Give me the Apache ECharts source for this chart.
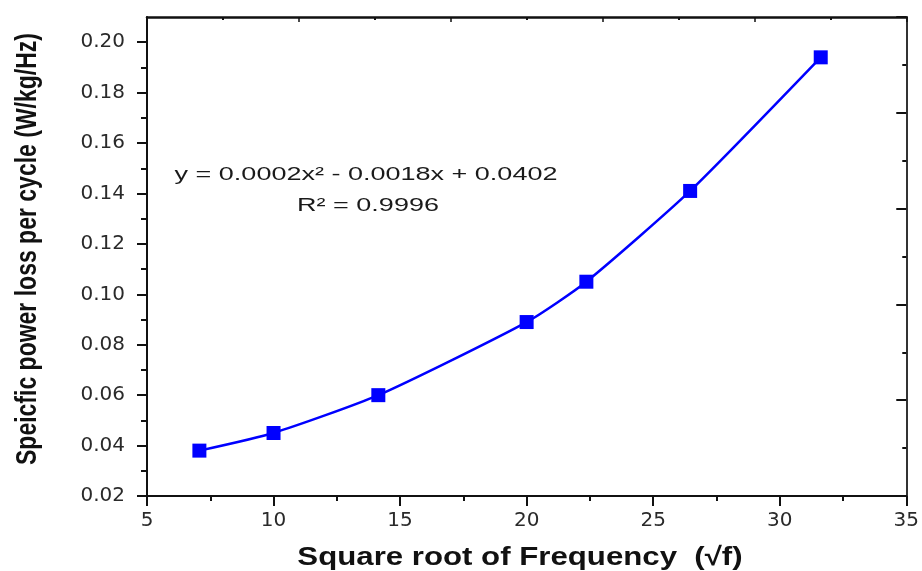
<!DOCTYPE html>
<html>
<head>
<meta charset="utf-8">
<title>Specific power loss per cycle vs square root of frequency</title>
<script src="https://cdn.jsdelivr.net/npm/echarts@6/dist/echarts.min.js"></script>
<style>
  html, body { margin: 0; padding: 0; background: #ffffff; }
  #chart { width: 922px; height: 571px; }
</style>
</head>
<body>
<div id="chart"></div>
<script>
// Measured points: square root of frequency vs. specific power loss per cycle
const sqrtFreq = [7.07, 10.0, 14.14, 20.0, 22.36, 26.46, 31.62];
const lossPerCycle = [0.038, 0.045, 0.060, 0.089, 0.105, 0.141, 0.194];

// Left axis tick positions (labelled majors, unlabelled minors)
const yMajorTicks = [0.02, 0.04, 0.06, 0.08, 0.10, 0.12, 0.14, 0.16, 0.18, 0.20];
const yMinorTicks = [0.03, 0.05, 0.07, 0.09, 0.11, 0.13, 0.15, 0.17, 0.19];

// Quadratic fit annotation
const fitEquation = 'y = 0.0002x\u00B2 - 0.0018x + 0.0402';
const fitR2 = 'R\u00B2 = 0.9996';

const xTitle = 'Square root of Frequency  (\u221Af)';
const yTitle = 'Speicfic power loss per cycle (W/kg/Hz)';

const points = sqrtFreq.map((x, i) => [x, lossPerCycle[i]]);

const chart = echarts.init(document.getElementById('chart'), null, { renderer: 'canvas' });

const labelFont = { fontFamily: 'DejaVu Sans', fontSize: 20, color: '#2a2a2a' };

chart.setOption({
  animation: false,
  backgroundColor: '#ffffff',
  grid: { left: 147, right: 15, top: 17, bottom: 75, containLabel: false },
  xAxis: [
    {
      type: 'value',
      position: 'bottom',
      min: 5, max: 35, interval: 5,
      axisLine: { show: true, onZero: false, lineStyle: { color: '#111111', width: 2 } },
      axisTick: { show: true, inside: false, length: 10, lineStyle: { color: '#111111', width: 2 } },
      minorTick: { show: true, splitNumber: 2, length: 5, lineStyle: { color: '#111111', width: 2 } },
      axisLabel: Object.assign({ margin: 15 }, labelFont),
      splitLine: { show: false }
    },
    {
      type: 'value',
      position: 'top',
      min: 0, max: 5, interval: 1,
      axisLine: { show: true, onZero: false, lineStyle: { color: '#111111', width: 2.5 } },
      axisTick: { show: true, inside: true, length: 5, lineStyle: { color: '#111111', width: 1.5 } },
      minorTick: { show: true, splitNumber: 2, length: 3, lineStyle: { color: '#111111', width: 2 } },
      axisLabel: { show: false },
      splitLine: { show: false }
    }
  ],
  yAxis: [
    {
      type: 'value',
      position: 'left',
      min: 0.02, max: 0.21,
      axisLine: { show: true, onZero: false, lineStyle: { color: '#111111', width: 2 } },
      axisTick: { show: true, inside: false, length: 10, customValues: yMajorTicks,
                  lineStyle: { color: '#111111', width: 2 } },
      axisLabel: Object.assign({ margin: 22, customValues: yMajorTicks,
                                 formatter: v => v.toFixed(2) }, labelFont),
      splitLine: { show: false }
    },
    {
      type: 'value',
      position: 'left',
      min: 0.02, max: 0.21,
      axisLine: { show: false },
      axisTick: { show: true, inside: false, length: 6, customValues: yMinorTicks,
                  lineStyle: { color: '#111111', width: 2 } },
      axisLabel: { show: false },
      splitLine: { show: false }
    },
    {
      type: 'value',
      position: 'right',
      min: 0, max: 5, interval: 1,
      axisLine: { show: true, onZero: false, lineStyle: { color: '#333333', width: 2 } },
      axisTick: { show: true, inside: true, length: 10, lineStyle: { color: '#111111', width: 2 } },
      minorTick: { show: true, splitNumber: 2, length: 4, lineStyle: { color: '#111111', width: 2 } },
      axisLabel: { show: false },
      splitLine: { show: false }
    }
  ],
  series: [
    {
      type: 'line',
      xAxisIndex: 0,
      yAxisIndex: 0,
      data: points,
      smooth: 0.2,
      symbol: 'rect',
      symbolSize: 14,
      showAllSymbol: true,
      itemStyle: { color: '#0000ff' },
      lineStyle: { color: '#0000ff', width: 2.5 },
      z: 5
    }
  ],
  graphic: [
    {
      type: 'text',
      x: 366, y: 175,
      scaleX: 1.46,
      style: {
        text: fitEquation,
        fontFamily: 'Liberation Sans',
        fontSize: 18.5,
        fill: '#1a1a1a',
        textAlign: 'center',
        textVerticalAlign: 'middle'
      }
    },
    {
      type: 'text',
      x: 368, y: 206,
      scaleX: 1.46,
      style: {
        text: fitR2,
        fontFamily: 'Liberation Sans',
        fontSize: 18.5,
        fill: '#1a1a1a',
        textAlign: 'center',
        textVerticalAlign: 'middle'
      }
    },
    {
      type: 'text',
      x: 520, y: 558,
      scaleX: 1.2,
      style: {
        text: xTitle,
        fontFamily: 'Liberation Sans',
        fontWeight: 'bold',
        fontSize: 26,
        fill: '#111111',
        textAlign: 'center',
        textVerticalAlign: 'middle'
      }
    },
    {
      type: 'text',
      x: 28, y: 249,
      rotation: Math.PI / 2,
      scaleY: 1.3,
      style: {
        text: yTitle,
        fontFamily: 'Liberation Sans',
        fontWeight: 'bold',
        fontSize: 23,
        fill: '#111111',
        textAlign: 'center',
        textVerticalAlign: 'middle'
      }
    }
  ]
});
</script>
</body>
</html>
